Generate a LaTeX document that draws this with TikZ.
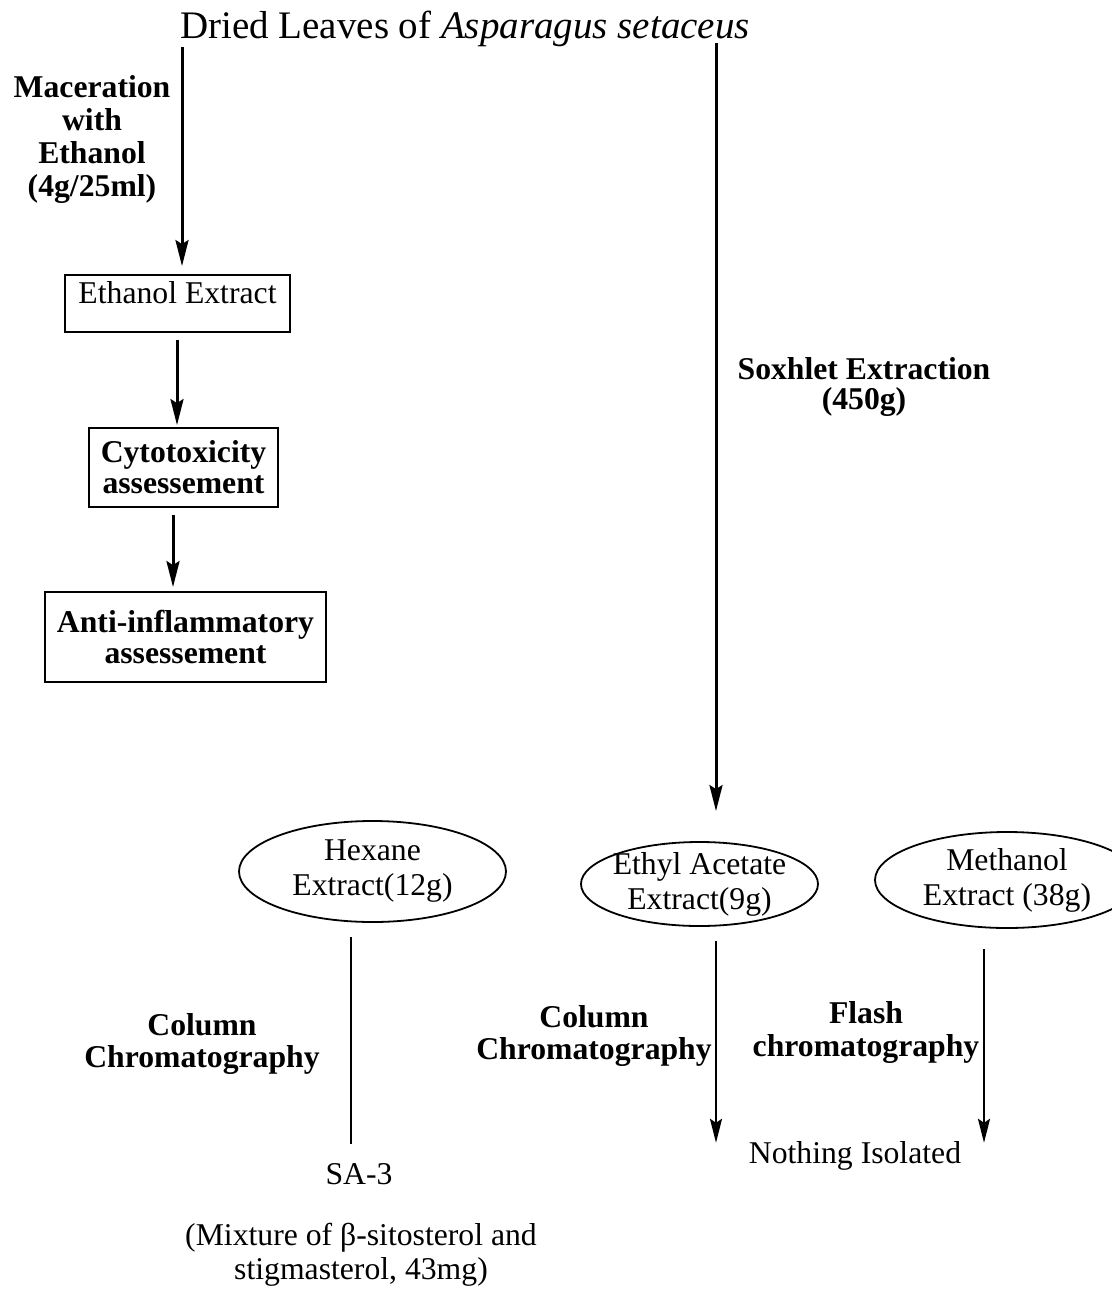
\documentclass[tikz,border=0pt]{standalone}
\usepackage{fontspec}
\setmainfont{Liberation Serif}
\usetikzlibrary{arrows.meta,shapes.geometric,calc}
\begin{document}
\begin{tikzpicture}[x=1pt,y=-1pt,
  txt/.style={inner sep=0pt, align=center, font=\fontsize{31.7}{35}\selectfont},
  lbl/.style={inner sep=0pt, align=center, font=\fontsize{31.7}{#1}\selectfont\bfseries},
  lbl/.default=32,
  box/.style={draw, line width=1.8pt, inner sep=0pt, align=center},
  ell/.style={draw, ellipse, line width=1.8pt, inner sep=-20pt, align=center,
              font=\fontsize{31.7}{35}\selectfont},
  arr/.style={line width=3pt, -{Stealth[length=26pt,width=13pt,inset=4pt]}},
  arrlow/.style={line width=2.5pt, -{Stealth[length=24pt,width=12pt,inset=4pt]}},
  plain/.style={line width=2.5pt}
]
\useasboundingbox (0,0) rectangle (1111,1293);

% starting material
\node[anchor=base west, inner sep=0pt, font=\fontsize{39}{41}\selectfont] (title)
  at (180,38) {Dried Leaves of \textit{Asparagus setaceus}};

% left branch: maceration and bioassays (multi-line nodes sit on their last baseline)
\node[lbl=33, anchor=base] (mac) at (92,196) {Maceration\\with\\Ethanol\\(4g/25ml)};
\node[box, minimum width=225pt, minimum height=57pt, text height=23pt, text depth=24pt,
      font=\fontsize{31.7}{35}\selectfont] (ethbox) at (177.5,303.5) {Ethanol Extract};
\node[box, minimum width=189pt, minimum height=79pt,
      font=\fontsize{31.7}{31}\selectfont\bfseries] (cytobox) at (183.5,467.5)
      {Cytotoxicity\\assessement};
\node[box, minimum width=281pt, minimum height=90pt,
      font=\fontsize{31.7}{31}\selectfont\bfseries] (antibox) at (185.5,637)
      {Anti-inflammatory\\assessement};

\coordinate (l0) at (182,47);
\draw[arr] (l0) -- ($(ethbox.north)+(4.5,-8)$);
\draw[arr] ($(ethbox.south)+(-0.5,7)$) -- ($(cytobox.north)+(-6.5,-2)$);
\draw[arr] ($(cytobox.south)+(-10.5,7)$) -- ($(antibox.north)+(-12.5,-4)$);

% right branch: Soxhlet extraction
\node[lbl=30, anchor=base] (sox) at (864,409) {Soxhlet Extraction\\(450g)};

\node[ell, minimum width=267pt, minimum height=101pt] (hex) at (372.5,871.5)
  {Hexane\\Extract(12g)};
\node[ell, minimum width=237pt, minimum height=84pt] (eth) at (699.5,884)
  {Ethyl Acetate\\Extract(9g)};
\node[ell, minimum width=264pt, minimum height=96pt] (meth) at (1007,880)
  {Methanol\\Extract (38g)};

\coordinate (r0) at (716,43);
\draw[arr] (r0) -- ($(eth.north)+(16.5,-30)$);

% fractionation
\node[lbl=32, anchor=base] (col1) at (202,1067) {Column\\Chromatography};
\node[lbl=32, anchor=base] (col2) at (594,1059) {Column\\Chromatography};
\node[lbl=33, anchor=base] (flash) at (866,1056) {Flash\\chromatography};

\node[txt, anchor=base] (sa3) at (359,1184) {SA-3};
\node[txt, anchor=base, font=\fontsize{31.7}{34}\selectfont] (mix) at (361,1279)
  {(Mixture of β-sitosterol and\\stigmasterol, 43mg)};
\node[txt, anchor=base] (none) at (855,1163) {Nothing Isolated};

\draw[plain] ($(hex.south)+(-21.5,14)$) -- ($(sa3.north)+(-8,-19)$);
\draw[arrlow] ($(eth.south)+(16.5,14)$) -- ($(eth.south |- none.north)+(16.5,2)$);
\draw[arrlow] ($(meth.south)+(-23,20)$) -- ($(meth.south |- none.north)+(-23,2)$);
\end{tikzpicture}
\end{document}
